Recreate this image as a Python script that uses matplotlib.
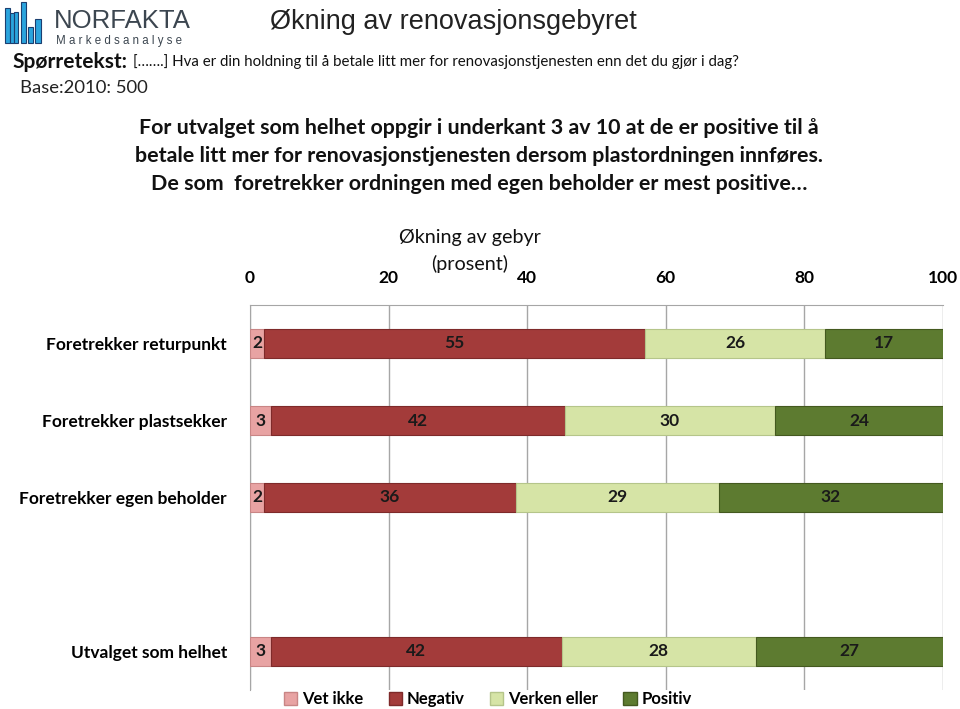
import matplotlib
matplotlib.use("Agg")
import matplotlib.pyplot as plt
from matplotlib.patches import Rectangle, Patch
import numpy as np

# data
kategorier = ["Foretrekker returpunkt", "Foretrekker plastsekker",
              "Foretrekker egen beholder", "", "Utvalget som helhet"]
vet_ikke = [2, 3, 2, np.nan, 3]
negativ = [55, 42, 36, np.nan, 42]
verken = [26, 30, 29, np.nan, 28]
positiv = [17, 24, 32, np.nan, 27]
serier = ["Vet ikke", "Negativ", "Verken eller", "Positiv"]
farger = ["#E8A3A3", "#A33B3A", "#D6E4A6", "#5D7B30"]
kanter = ["#C98585", "#7E2A2A", "#B5C58A", "#44591F"]
xticks = [0, 20, 40, 60, 80, 100]

W, H = 960, 709
fig = plt.figure(figsize=(W / 100, H / 100), dpi=100)

def fx(px):
    return px / W

def fy(py):
    return 1 - py / H

# --- logo (pixel coords, y down) ---
logo = fig.add_axes([0, 0, 1, 1])
logo.set_xlim(0, W)
logo.set_ylim(H, 0)
logo.axis("off")
stolper = [(5, 8, 5), (10, 13, 4), (14, 12, 4), (21, 2, 5), (28, 27, 5), (35, 19, 6)]
for x0, topp, b in stolper:
    logo.add_patch(Rectangle((x0, topp), b, 43 - topp, facecolor="#2AA4DD",
                             edgecolor="#1B3F70", linewidth=0.8))
fig.text(fx(54), fy(21), "NORFAKTA", fontsize=18.5, color="#3C4650",
         family="Liberation Sans", va="center", ha="left")
fig.text(fx(56), fy(41), "M a r k e d s a n a l y s e", fontsize=8.3, color="#3C4650",
         family="Liberation Sans", va="center", ha="left")

# --- titles ---
fig.text(fx(270), fy(22), "Økning av renovasjonsgebyret", fontsize=19.5, color="#222222",
         family="Liberation Sans", va="center", ha="left")
fig.text(fx(12), fy(62), "Spørretekst:", fontsize=15, fontweight="bold", color="#111111",
         family="Lato", va="center", ha="left")
fig.text(fx(133), fy(62),
         "[…….] Hva er din holdning til å betale litt mer for renovasjonstjenesten enn det du gjør i dag?",
         fontsize=10.8, color="#111111", family="Lato", va="center", ha="left")
fig.text(fx(20), fy(88), "Base:2010: 500", fontsize=13.3, color="#222222",
         family="Lato", va="center", ha="left")

linjer = ["For utvalget som helhet oppgir i underkant 3 av 10 at de er positive til å",
          "betale litt mer for renovasjonstjenesten dersom plastordningen innføres.",
          "De som  foretrekker ordningen med egen beholder er mest positive…"]
for i, l in enumerate(linjer):
    fig.text(fx(479), fy(128 + 28 * i), l, fontsize=15.4, fontweight="bold", color="#111111",
             family="Lato", va="center", ha="center")

fig.text(fx(470), fy(238), "Økning av gebyr", fontsize=14.2, color="#111111",
         family="Lato", va="center", ha="center")
fig.text(fx(470), fy(264), "(prosent)", fontsize=14.2, color="#111111",
         family="Lato", va="center", ha="center")

# --- chart (100 % stacked) ---
ax = fig.add_axes([fx(250), fy(690), fx(943) - fx(250), fy(305) - fy(690)])
data = np.array([vet_ikke, negativ, verken, positiv], dtype=float)
sum_rad = np.nansum(data, axis=0)
left = np.zeros(len(kategorier))
for navn, verdier, f, k in zip(serier, data, farger, kanter):
    for yi, val in enumerate(verdier):
        if np.isnan(val):
            continue
        andel = val / sum_rad[yi] * 100
        ax.barh(yi, andel, left=left[yi], height=0.37, color=f, edgecolor=k,
                linewidth=0.8, zorder=3)
        ax.text(left[yi] + andel / 2, yi, f"{int(val)}", ha="center", va="center",
                fontsize=12.5, fontweight="bold", color="#1a1a1a", family="Lato", zorder=4)
        left[yi] += andel

ax.set_xlim(0, 100)
ax.set_ylim(4.5, -0.5)
ax.set_xticks(xticks)
ax.xaxis.tick_top()
ax.tick_params(axis="x", length=0, pad=14, labelsize=12.5)
for t in ax.get_xticklabels():
    t.set_fontweight("bold")
    t.set_family("Lato")
vis = [i for i, k in enumerate(kategorier) if k]
ax.set_yticks(vis)
ax.set_yticklabels([kategorier[i] for i in vis], fontsize=12.5, fontweight="bold", family="Lato")
ax.tick_params(axis="y", length=0, pad=16.5)
ax.grid(axis="x", color="#A6A6A6", linewidth=1, zorder=0)
for s in ["right", "bottom"]:
    ax.spines[s].set_visible(False)
ax.spines["top"].set_color("#A6A6A6")
ax.spines["left"].set_color("#A6A6A6")

handles = [Patch(facecolor=f, edgecolor=k) for f, k in zip(farger, kanter)]
leg = fig.legend(handles, serier, loc="center", bbox_to_anchor=(fx(488), fy(699)), ncol=4,
                 frameon=False, handlelength=0.8, handleheight=0.8, handletextpad=0.3,
                 columnspacing=1.5, prop={"family": "Lato", "weight": "bold", "size": 12})

fig.savefig("out.png", dpi=100)
